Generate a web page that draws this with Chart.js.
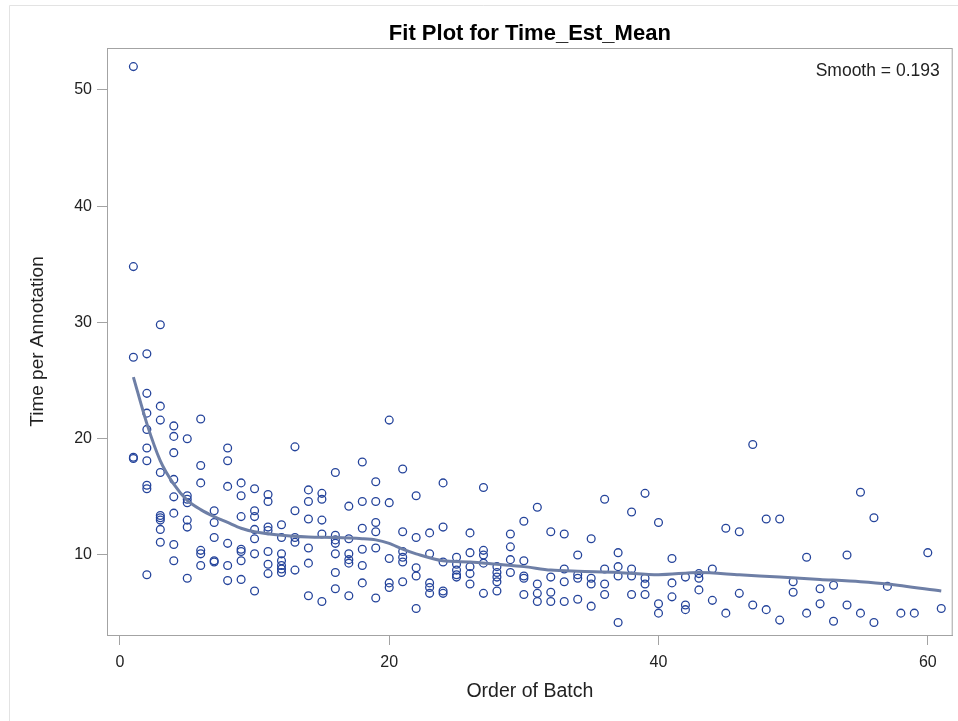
<!DOCTYPE html>
<html>
<head>
<meta charset="utf-8">
<script src="https://cdn.jsdelivr.net/npm/chart.js@4.4.1/dist/chart.umd.min.js"></script>
<style>
  body { margin: 0; background: #fff; }
</style>
</head>
<body>
<canvas id="fit" width="958" height="721"></canvas>
<script>
// time per annotation, one list per batch (batch 1 .. 61)
var timesByBatch = [
  [52.0, 34.8, 27.0, 18.3, 18.4],
  [27.3, 23.9, 22.2, 20.8, 19.2, 18.1, 16.0, 15.7, 8.3],
  [29.8, 22.8, 21.6, 17.1, 13.4, 13.2, 13.0, 12.2, 11.1],
  [21.1, 20.2, 18.8, 16.5, 15.0, 13.6, 10.9, 9.5],
  [20.0, 15.1, 14.8, 14.5, 13.0, 12.4, 8.0],
  [21.7, 17.7, 16.2, 10.4, 10.1, 9.1],
  [13.8, 12.8, 11.5, 9.5, 9.4],
  [19.2, 18.1, 15.9, 11.0, 9.1, 7.8],
  [16.2, 15.1, 13.3, 10.5, 10.3, 9.5, 7.9],
  [15.7, 13.8, 13.3, 12.2, 11.4, 10.1, 6.9],
  [15.2, 14.6, 12.4, 12.1, 10.3, 9.2, 8.4],
  [12.6, 11.5, 10.1, 9.5, 9.1, 8.8, 8.5],
  [19.3, 13.8, 11.5, 11.1, 8.7],
  [15.6, 14.6, 13.1, 10.6, 9.3, 6.5],
  [15.3, 14.8, 13.0, 11.8, 6.0],
  [17.1, 11.7, 11.3, 11.0, 10.1, 8.5, 7.1],
  [14.2, 11.4, 10.1, 9.6, 9.3, 6.5],
  [18.0, 14.6, 12.3, 10.5, 9.1, 7.6],
  [16.3, 14.6, 12.8, 12.0, 10.6, 6.3],
  [21.6, 14.5, 9.7, 7.6, 7.2],
  [17.4, 12.0, 10.3, 9.8, 9.4, 7.7],
  [15.1, 11.5, 8.9, 8.2, 5.4],
  [11.9, 10.1, 7.6, 7.2, 6.7],
  [16.2, 12.4, 9.4, 6.9, 6.7],
  [9.8, 9.2, 8.7, 8.3, 8.1],
  [11.9, 10.2, 9.0, 8.4, 7.5],
  [15.8, 10.4, 10.0, 9.3, 6.7],
  [9.0, 8.5, 8.1, 7.7, 6.9],
  [11.8, 10.7, 9.6, 8.5],
  [12.9, 9.5, 8.2, 8.0, 6.6],
  [14.1, 7.5, 6.7, 6.0],
  [12.0, 8.1, 6.8, 6.0],
  [11.8, 8.8, 7.7, 6.0],
  [10.0, 8.3, 8.0, 6.2],
  [11.4, 8.0, 7.5, 5.6],
  [14.8, 8.8, 7.5, 6.6],
  [10.2, 9.0, 8.2, 4.2],
  [13.7, 8.8, 8.2, 6.6],
  [15.3, 8.0, 7.5, 6.6],
  [12.8, 5.8, 5.0],
  [9.7, 7.6, 6.4],
  [8.1, 5.7, 5.3],
  [8.4, 8.0, 7.0],
  [8.8, 6.1],
  [12.3, 5.0],
  [12.0, 6.7],
  [19.5, 5.7],
  [13.1, 5.3],
  [13.1, 4.4],
  [7.7, 6.8],
  [9.8, 5.0],
  [7.1, 5.8],
  [7.4, 4.3],
  [10.0, 5.7],
  [15.4, 5.0],
  [13.2, 4.2],
  [7.3],
  [5.0],
  [5.0],
  [10.2],
  [5.4]
];

// loess fit (smooth = 0.193)
var smoothX = [1, 2, 3, 4, 5, 6, 7, 8, 9, 10, 12, 14, 16, 18, 19, 20, 21, 22, 24, 26, 28, 30, 32, 34, 37, 40, 43, 46, 49, 52, 55, 57, 61];
var smoothY = [25.3, 21.3, 18.1, 16.1, 14.7, 13.9, 13.3, 12.8, 12.3, 12.0, 11.7, 11.55, 11.5, 11.4, 11.3, 11.0, 10.5, 10.1, 9.5, 9.4, 9.2, 9.0, 8.7, 8.6, 8.5, 8.3, 8.5, 8.3, 8.1, 7.9, 7.7, 7.5, 6.9];

var xTicks = [0, 20, 40, 60];
var yTicks = [10, 20, 30, 40, 50];

var points = [];
timesByBatch.forEach(function (list, i) {
  list.forEach(function (t) { points.push({ x: i + 1, y: t }); });
});
var fitLine = smoothX.map(function (x, i) { return { x: x, y: smoothY[i] }; });

Chart.defaults.font.family = "'Liberation Sans', Arial, sans-serif";

var frame = {
  id: 'frame',
  beforeDraw: function (chart) {
    var c = chart.ctx;
    c.save();
    c.fillStyle = '#fff';
    c.fillRect(0, 0, chart.width, chart.height);
    c.strokeStyle = '#e3e3e3';
    c.lineWidth = 1;
    c.beginPath();
    c.moveTo(9.5, chart.height);
    c.lineTo(9.5, 5.5);
    c.lineTo(chart.width, 5.5);
    c.stroke();
    c.restore();
  },
  afterDraw: function (chart) {
    var a = chart.chartArea, c = chart.ctx;
    c.save();
    c.strokeStyle = '#a3a3a3';
    c.lineWidth = 1;
    c.strokeRect(a.left + 0.5, a.top + 0.5, a.right - a.left - 1, a.bottom - a.top);
    c.fillStyle = '#222';
    c.font = "17.5px 'Liberation Sans', Arial, sans-serif";
    c.textAlign = 'right';
    c.textBaseline = 'middle';
    c.fillText('Smooth = 0.193', a.right - 13, a.top + 23);
    c.restore();
  }
};

new Chart(document.getElementById('fit'), {
  data: {
    datasets: [{
      type: 'line',
      data: fitLine,
      borderColor: '#6e7fa6',
      borderWidth: 3,
      pointRadius: 0,
      tension: 0.3,
      fill: false,
      order: 1
    }, {
      type: 'scatter',
      data: points,
      pointStyle: 'circle',
      pointRadius: 3.9,
      borderWidth: 1.3,
      borderColor: '#25449b',
      backgroundColor: 'rgba(0,0,0,0)',
      order: 2
    }]
  },
  options: {
    responsive: false,
    animation: false,
    layout: { padding: { left: 0, right: 4, top: 0, bottom: 0 } },
    plugins: {
      legend: { display: false },
      tooltip: { enabled: false },
      title: {
        display: true,
        fullSize: false,
        text: 'Fit Plot for Time_Est_Mean',
        color: '#000',
        font: { size: 22, weight: 'bold' },
        padding: { top: 21, bottom: 0.6 }
      }
    },
    scales: {
      x: {
        type: 'linear',
        min: -0.96,
        max: 61.85,
        afterFit: function (s) { s.height = 86; },
        afterBuildTicks: function (s) { s.ticks = xTicks.map(function (v) { return { value: v }; }); },
        grid: { drawOnChartArea: false, tickLength: 10, color: '#a3a3a3' },
        border: { color: '#a3a3a3' },
        ticks: { color: '#222', font: { size: 16 }, padding: 8, maxRotation: 0 },
        title: { display: true, text: 'Order of Batch', color: '#222', font: { size: 19.5 }, padding: { top: 0, bottom: 17.3 } }
      },
      y: {
        type: 'linear',
        min: 3.12,
        max: 53.6,
        afterFit: function (s) { s.width = 107; },
        afterBuildTicks: function (s) { s.ticks = yTicks.map(function (v) { return { value: v }; }); },
        grid: { drawOnChartArea: false, tickLength: 10, color: '#a3a3a3' },
        border: { color: '#a3a3a3' },
        ticks: { color: '#222', font: { size: 16 }, padding: 5 },
        title: { display: true, text: 'Time per Annotation', color: '#222', font: { size: 19 }, padding: { top: 26.6, bottom: 0 } }
      }
    }
  },
  plugins: [frame]
});
</script>
</body>
</html>
